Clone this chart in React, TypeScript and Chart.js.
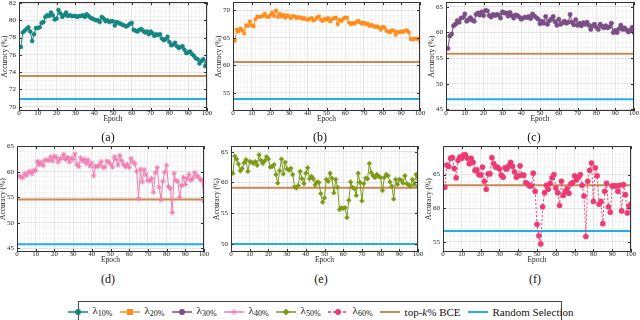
import React, { useEffect, useRef } from 'react';
import { Chart, registerables } from 'chart.js';
Chart.register(...registerables);

const epochs = [1,2,3,4,5,6,7,8,9,10,11,12,13,14,15,16,17,18,19,20,21,22,23,24,25,26,27,28,29,30,31,32,33,34,35,36,37,38,39,40,41,42,43,44,45,46,47,48,49,50,51,52,53,54,55,56,57,58,59,60,61,62,63,64,65,66,67,68,69,70,71,72,73,74,75,76,77,78,79,80,81,82,83,84,85,86,87,88,89,90,91,92,93,94,95,96,97,98,99,100];

const acc10 = [76.9,78.6,78.8,79.0,79.2,78.7,77.6,78.4,79.1,79.1,
 79.2,79.7,79.8,80.4,80.6,80.5,80.9,80.6,80.1,80.2,
 81.2,80.8,80.4,80.6,80.9,80.5,80.6,80.5,80.5,80.5,
 80.4,80.5,80.5,80.6,80.4,80.7,80.5,80.3,80.2,80.1,
 80.0,80.0,79.8,80.4,80.2,79.9,80.0,79.8,79.9,79.9,
 79.4,79.8,79.7,79.6,79.5,79.4,79.3,79.4,79.6,79.7,
 78.9,78.8,78.7,78.9,79.0,78.8,78.6,78.7,78.4,78.7,
 78.5,78.2,78.4,78.3,78.4,77.9,77.7,77.8,78.1,77.5,
 77.1,77.2,77.4,77.0,76.8,76.9,77.0,76.6,76.2,76.3,
 76.4,76.1,75.9,75.6,75.5,75.0,75.3,75.5,74.7,75.2];

const acc20 = [64.5,66.5,66.2,66.7,66.4,65.8,67.3,67.2,68.0,67.3,
 67.1,68.4,68.9,68.8,68.9,69.0,69.4,68.9,68.8,69.2,
 69.6,69.0,70.0,68.8,69.4,68.9,69.2,68.7,69.1,68.9,
 68.6,69.0,68.9,68.6,68.8,68.7,68.5,68.6,68.4,68.3,
 68.5,68.6,68.2,68.4,68.7,68.9,68.3,68.1,68.5,68.3,
 68.6,68.0,68.4,68.6,68.7,67.5,68.3,68.1,68.5,68.7,
 68.7,67.8,67.5,67.7,67.6,67.9,68.1,67.8,67.6,67.8,
 67.5,67.6,67.2,67.4,67.2,67.0,67.1,66.9,66.5,67.0,
 66.9,66.3,66.2,66.0,66.4,66.3,65.6,66.1,66.0,66.2,
 66.1,66.3,66.4,66.0,64.8,64.7,64.9,64.8,64.9,64.3];

const acc30 = [56.9,59.3,59.7,61.3,61.6,62.3,62.0,62.8,62.9,63.6,
 62.2,62.5,62.9,62.4,62.2,63.5,63.8,63.4,64.0,63.3,
 64.3,64.2,63.3,63.0,63.5,63.3,63.5,63.4,62.8,64.0,
 63.8,63.8,63.2,63.9,63.3,62.8,63.4,63.3,63.0,62.6,
 62.8,63.0,62.9,63.1,62.7,63.6,63.2,62.9,62.6,61.7,
 62.2,61.8,63.1,61.6,62.3,62.6,63.1,62.1,61.4,62.6,
 61.6,61.9,62.2,61.8,62.0,63.5,62.0,61.5,62.5,61.4,
 61.8,61.3,61.9,61.6,62.0,61.4,60.6,61.3,61.6,61.0,
 60.6,61.6,61.2,60.9,61.3,60.9,61.1,61.8,60.0,60.4,
 60.0,60.7,61.4,60.6,60.9,60.5,60.1,60.4,61.0,60.0];

const acc40 = [59.2,59.0,58.8,59.6,59.3,59.9,60.1,59.6,60.3,60.2,
 62.0,61.4,61.9,61.2,62.3,62.3,62.2,62.9,62.1,63.0,
 62.8,61.9,62.5,62.7,63.4,62.4,62.8,61.9,62.7,62.4,
 63.5,61.5,61.0,62.7,62.1,62.4,61.6,62.3,61.1,61.7,
 59.2,61.0,61.0,61.3,62.0,60.8,60.9,62.1,61.9,61.5,
 60.9,62.9,62.4,61.3,63.2,62.2,61.4,61.0,61.5,60.8,
 62.6,61.9,61.6,60.1,54.7,60.5,58.0,60.4,59.4,58.3,
 58.2,58.7,56.0,59.8,60.8,57.0,54.5,58.1,59.9,61.3,
 57.1,56.7,52.0,59.7,58.3,58.1,55.0,57.3,58.9,57.5,
 58.7,59.5,58.3,58.7,59.8,59.2,59.0,58.4,58.4,54.2];

const acc50 = [61.5,64.3,63.8,63.0,61.9,62.3,63.2,63.7,61.8,63.4,
 63.3,63.1,63.4,62.8,64.5,63.6,63.1,63.5,64.2,63.8,
 62.5,62.6,62.9,61.3,59.9,61.9,63.8,61.4,63.3,62.2,
 62.0,62.3,61.3,59.3,59.1,59.5,61.8,60.6,59.8,61.5,
 62.4,60.6,61.0,60.6,59.6,60.1,60.0,58.2,56.8,57.5,
 60.5,60.2,61.5,60.7,58.3,60.5,59.2,55.6,55.9,55.8,
 55.9,54.3,57.1,60.1,59.2,59.0,57.9,61.5,60.0,57.0,
 59.8,60.7,60.6,63.1,61.6,61.1,60.8,61.3,61.0,60.8,
 58.7,60.8,61.3,61.1,60.1,59.4,57.3,60.5,59.7,60.5,
 60.4,59.9,61.1,59.8,59.6,59.4,60.5,59.7,61.3,59.4];

const acc60 = [63.1,66.4,66.2,67.4,67.5,65.9,64.5,67.1,67.6,67.4,
 67.9,67.9,67.4,66.6,67.4,66.8,65.6,65.7,65.0,64.9,
 66.1,64.0,62.8,65.1,65.1,67.5,66.6,66.1,66.1,65.8,
 64.9,64.6,66.0,65.8,66.3,66.8,66.2,65.4,64.6,64.8,
 66.3,64.9,64.9,63.8,63.6,63.3,63.3,65.2,62.5,57.6,
 55.9,54.7,60.2,62.3,63.4,62.8,63.7,64.5,65.0,63.0,
 62.3,60.4,64.0,61.9,62.4,62.9,62.2,63.6,63.8,64.8,
 64.2,64.6,65.0,63.4,61.8,55.8,64.0,65.6,66.7,61.0,
 66.0,64.8,60.6,61.0,57.7,62.5,63.7,60.2,59.4,63.3,
 63.3,63.3,62.5,63.4,59.6,63.5,62.0,59.3,60.3,60.6];

const topkBCE = [73.55, 60.6, 55.85, 54.55, 59.15, 63.4];
const randomSel = [70.88, 53.87, 47.0, 45.83, 50.0, 56.6];
const yMins = [69.5, 51.7, 44.7, 44.3, 48.7, 53.5];
const yMaxs = [82.1, 71.5, 65.9, 65.0, 65.9, 69.2];
const yMajor = [2, 5, 5, 5, 5, 5];
const yMinor = [0.5, 1, 1, 1, 1, 1];
const panelLabels = ['(a)', '(b)', '(c)', '(d)', '(e)', '(f)'];
const seriesNames = ['10%', '20%', '30%', '40%', '50%', '60%'];

const SERIES = [acc10, acc20, acc30, acc40, acc50, acc60];
const COLORS = ['#14857f', '#ff8c1a', '#7b4e85', '#f27cb0', '#7c9a16', '#ec3b72'];
const STYLES: any[] = ['circle', 'rect', 'circle', 'star', 'rectRot', 'circle'];
const RADII = [2, 2.2, 2.2, 2.6, 2.4, 2.6];
const BROWN = '#c88a55';
const BLUE = '#22aee8';
const FONT = '"Liberation Serif", "Times New Roman", serif';

// plot-area boxes [left, top, right, bottom]
const BOXES = [
  [19, 1, 207, 111], [233, 1, 420, 111], [446, 1, 634, 111],
  [17, 145, 204, 252], [231, 145, 418, 252], [443, 145, 631, 252],
];
const LABEL_POS = [[108, 137], [320, 137], [534, 137], [108, 279], [321, 279], [535, 279]];

const AX = 19, PT = 6, PR = 7, XH = 12;

const isMult = (v: number, m: number) => Math.abs(v / m - Math.round(v / m)) < 1e-6;

const framePlugin = {
  id: 'frame',
  afterDraw(chart: any, _a: any, opts: any) {
    const { ctx, chartArea: a, scales } = chart;
    ctx.save();
    ctx.strokeStyle = '#333';
    ctx.lineWidth = 1;
    ctx.beginPath();
    const xs = scales.x, ys = scales.y;
    for (let v = 0; v <= 100; v += 10) {
      const px = Math.round(xs.getPixelForValue(v)) + 0.5;
      ctx.moveTo(px, a.bottom); ctx.lineTo(px, a.bottom - 3);
      ctx.moveTo(px, a.top); ctx.lineTo(px, a.top + 3);
    }
    const m = opts.major;
    for (let v = Math.ceil(ys.min / m) * m; v <= ys.max; v += m) {
      const py = Math.round(ys.getPixelForValue(v)) + 0.5;
      ctx.moveTo(a.left, py); ctx.lineTo(a.left + 3, py);
      ctx.moveTo(a.right, py); ctx.lineTo(a.right - 3, py);
    }
    ctx.stroke();
    ctx.strokeRect(Math.round(a.left) + 0.5, Math.round(a.top) + 0.5, Math.round(a.right - a.left) - 1, Math.round(a.bottom - a.top) - 1);
    ctx.restore();
  },
};

function Panel({ idx }: { idx: number }) {
  const ref = useRef<HTMLCanvasElement>(null);
  const [L, T, R, B] = BOXES[idx];
  const w = R - L + AX + PR;
  const h = B - T + PT + XH;
  useEffect(() => {
    const tickFont = { family: FONT, size: 7 };
    const data = SERIES[idx];
    const chart = new Chart(ref.current!, {
      type: 'line',
      data: {
        datasets: [
          {
            data: epochs.map((e, i) => ({ x: e, y: data[i] })),
            borderColor: COLORS[idx],
            backgroundColor: COLORS[idx],
            pointBackgroundColor: COLORS[idx],
            pointBorderColor: COLORS[idx],
            pointStyle: STYLES[idx],
            pointRadius: RADII[idx],
            pointBorderWidth: idx === 3 ? 1 : 0.5,
            borderWidth: 1,
            borderDash: idx === 5 ? [2, 2] : [],
            tension: 0,
          },
          {
            data: [{ x: 0, y: topkBCE[idx] }, { x: 100, y: topkBCE[idx] }],
            borderColor: BROWN, borderWidth: 2, pointRadius: 0,
          },
          {
            data: [{ x: 0, y: randomSel[idx] }, { x: 100, y: randomSel[idx] }],
            borderColor: BLUE, borderWidth: 2, pointRadius: 0,
          },
        ],
      },
      options: {
        animation: false,
        responsive: false,
        layout: { padding: { top: PT, right: PR, left: 0, bottom: 0 } },
        plugins: { legend: { display: false }, tooltip: { enabled: false }, frame: { major: yMajor[idx] } } as any,
        scales: {
          x: {
            type: 'linear', min: 0, max: 100,
            ticks: {
              stepSize: 2, autoSkip: false, maxRotation: 0, padding: -2, includeBounds: false,
              font: tickFont, color: '#222',
              callback: (v: any) => (isMult(v, 10) ? String(v) : ''),
            },
            grid: {
              drawTicks: false, lineWidth: 0.6,
              color: (c: any) => (isMult(c.tick.value, 10) ? '#d4d4d4' : '#ececec'),
            },
            border: { display: false },
            title: { display: true, text: 'Epoch', font: { family: FONT, size: 7.5, lineHeight: 1 }, color: '#222', padding: { top: 0, bottom: 0 } },
            afterFit: (s: any) => { s.height = XH; },
          },
          y: {
            type: 'linear', min: yMins[idx], max: yMaxs[idx],
            ticks: {
              stepSize: yMinor[idx], autoSkip: false, padding: 3, includeBounds: false,
              font: tickFont, color: '#222',
              callback: (v: any) => (isMult(v, yMajor[idx]) ? String(Math.round(v)) : ''),
            },
            grid: {
              drawTicks: false, lineWidth: 0.6,
              color: (c: any) => (isMult(c.tick.value, yMajor[idx]) ? '#d4d4d4' : '#ececec'),
            },
            border: { display: false },
            title: { display: true, text: 'Accuracy (%)', font: { family: FONT, size: 7.5, lineHeight: 1 }, color: '#222', padding: { top: 1, bottom: 0 } },
            afterFit: (s: any) => { s.width = AX; },
          },
        },
      } as any,
      plugins: [framePlugin],
    });
    return () => chart.destroy();
  }, []);
  return (
    <canvas
      ref={ref}
      width={w}
      height={h}
      style={{ position: 'absolute', left: L - AX, top: T - PT, width: w, height: h }}
    />
  );
}

function Marker({ idx }: { idx: number }) {
  const c = COLORS[idx];
  const cx = 11, cy = 5;
  let m: any = null;
  if (STYLES[idx] === 'circle') m = <circle cx={cx} cy={cy} r={3} fill={c} />;
  else if (STYLES[idx] === 'rect') m = <rect x={cx - 3} y={cy - 3} width={6} height={6} fill={c} />;
  else if (STYLES[idx] === 'rectRot') m = <polygon points={`${cx},${cy - 3.5} ${cx + 3.5},${cy} ${cx},${cy + 3.5} ${cx - 3.5},${cy}`} fill={c} />;
  else m = (
    <g stroke={c} strokeWidth={1}>
      <line x1={cx - 3} y1={cy} x2={cx + 3} y2={cy} />
      <line x1={cx - 1.5} y1={cy - 2.6} x2={cx + 1.5} y2={cy + 2.6} />
      <line x1={cx - 1.5} y1={cy + 2.6} x2={cx + 1.5} y2={cy - 2.6} />
    </g>
  );
  return (
    <svg width={22} height={10} style={{ display: 'block' }}>
      <line x1={1} y1={5} x2={21} y2={5} stroke={c} strokeWidth={1.5} strokeDasharray={idx === 5 ? '3 2' : undefined} />
      {m}
    </svg>
  );
}

function LineSample({ color }: { color: string }) {
  return (
    <svg width={22} height={10} style={{ display: 'block' }}>
      <line x1={1} y1={5} x2={21} y2={5} stroke={color} strokeWidth={2} />
    </svg>
  );
}

function Legend() {
  const item = { display: 'flex', alignItems: 'center', marginRight: 6 } as any;
  const txt = { marginLeft: 4, whiteSpace: 'nowrap' } as any;
  return (
    <div style={{
      position: 'absolute', left: 78, top: 301, width: 482, height: 19,
      border: '1px solid #444', display: 'flex', alignItems: 'center', justifyContent: 'center',
      fontFamily: FONT, fontSize: 11, color: '#111', lineHeight: '12px',
    }}>
      {seriesNames.map((n, i) => (
        <div key={i} style={item}>
          <Marker idx={i} />
          <span style={txt}>λ<sub style={{ fontSize: 8, verticalAlign: -2 }}>{n}</sub></span>
        </div>
      ))}
      <div style={item}>
        <LineSample color={BROWN} />
        <span style={txt}>top-<i>k</i>% BCE</span>
      </div>
      <div style={{ ...item, marginRight: 0 }}>
        <LineSample color={BLUE} />
        <span style={txt}>Random Selection</span>
      </div>
    </div>
  );
}

export default function App() {
  return (
    <div style={{ position: 'fixed', left: 0, top: 0, width: 640, height: 320, overflow: 'hidden', background: '#fff' }}>
      {[0, 1, 2, 3, 4, 5].map((i) => <Panel key={i} idx={i} />)}
      {panelLabels.map((t, i) => (
        <div key={t} style={{
          position: 'absolute', left: LABEL_POS[i][0] - 20, top: LABEL_POS[i][1] - 7, width: 40,
          textAlign: 'center', fontFamily: FONT, fontSize: 12, lineHeight: '14px', color: '#111',
        }}>{t}</div>
      ))}
      <Legend />
    </div>
  );
}
